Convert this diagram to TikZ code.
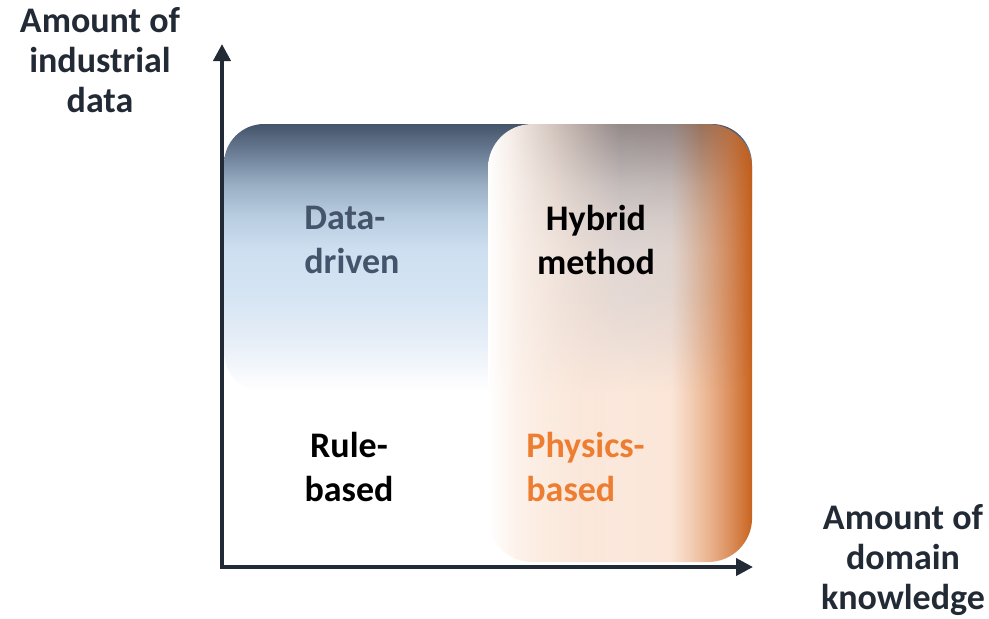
\documentclass[tikz,border=0pt]{standalone}
\usepackage{fontspec}
\setmainfont{Carlito}
\usetikzlibrary{arrows.meta, fadings}

\definecolor{slate}{HTML}{44546A}
\definecolor{axisdark}{HTML}{222A35}
\definecolor{physorange}{HTML}{ED7D31}
\definecolor{burnt}{HTML}{C55A11}

% blue region, light at the bottom
\pgfdeclareverticalshading{datashade}{100bp}{%
  color(0bp)=(white); color(25bp)=(white);
  color(29bp)=(rgb,255:red,245;green,248;blue,252);
  color(34.7bp)=(rgb,255:red,230;green,238;blue,247);
  color(42.2bp)=(rgb,255:red,215;green,229;blue,243);
  color(51.5bp)=(rgb,255:red,205;green,223;blue,240);
  color(58bp)=(rgb,255:red,184;green,204;blue,224);
  color(63.6bp)=(rgb,255:red,154;green,175;blue,196);
  color(69.2bp)=(rgb,255:red,110;green,129;blue,153);
  color(75bp)=(slate); color(100bp)=(slate)}
% orange region, white at the left
\pgfdeclarehorizontalshading{hybridshade}{100bp}{%
  color(0bp)=(white); color(25bp)=(white);
  color(30bp)=(rgb,255:red,253;green,242;blue,235);
  color(36.7bp)=(rgb,255:red,250;green,230;blue,216);
  color(50bp)=(rgb,255:red,246;green,204;blue,177);
  color(59.5bp)=(rgb,255:red,246;green,199;blue,168);
  color(65.2bp)=(rgb,255:red,224;green,140;blue,82);
  color(70.8bp)=(rgb,255:red,211;green,114;blue,51);
  color(75bp)=(burnt); color(100bp)=(burnt)}
\pgfdeclarehorizontalshading{hybridmask}{100bp}{%
  color(0bp)=(white); color(25bp)=(white);
  color(30bp)=(white!95!black); color(36.7bp)=(white!80!black);
  color(50bp)=(white!45!black); color(59.5bp)=(white!45!black);
  color(65.2bp)=(white!55!black); color(70.8bp)=(white!80!black);
  color(75bp)=(white!95!black); color(100bp)=(white!95!black)}
\pgfdeclarefading{hybridfade}{\pgfuseshading{hybridmask}}

\tikzset{
  axisline/.style={line width=2pt, draw=axisdark,
    {Triangle[length=8.5pt,width=8.5pt]}-{Triangle[length=8.5pt,width=8.5pt]}},
  tag/.style={font=\bfseries\fontsize{18}{22}\selectfont, inner sep=0pt},
  axislabel/.style={font=\bfseries\fontsize{18}{20}\selectfont, text=axisdark,
    align=center, inner sep=0pt}
}

\begin{document}
\begin{tikzpicture}[x=0.5pt, y=-0.5pt]
  \useasboundingbox (0,0) rectangle (989,618);

  % regions
  \path[shading=datashade, rounded corners=20pt] (224,124) rectangle (752,392);
  \path[shading=hybridshade, path fading=hybridfade, fit fading=true,
    rounded corners=22pt] (488,124) rectangle (752,562);

  % axes
  \coordinate (origin) at (222,567);
  \coordinate (ytip) at (222,44);
  \coordinate (xtip) at (753,567);
  \draw[axisline] (ytip) -- (origin) -- (xtip);

  % quadrant labels
  \node[tag, anchor=west, align=left, text=slate] (data) at (304,240) {Data-\\driven};
  \node[tag, align=center] (hybrid) at (596,240) {Hybrid\\method};
  \node[tag, align=center] (rule) at (349,467) {Rule-\\based};
  \node[tag, anchor=west, align=left, text=physorange] (physics) at (526,467) {Physics-\\based};

  % axis labels
  \node[axislabel] (ylabel) at (100,60) {Amount of\\industrial\\data};
  \node[axislabel] (xlabel) at (903,560) {Amount of\\domain\\knowledge};
\end{tikzpicture}
\end{document}
